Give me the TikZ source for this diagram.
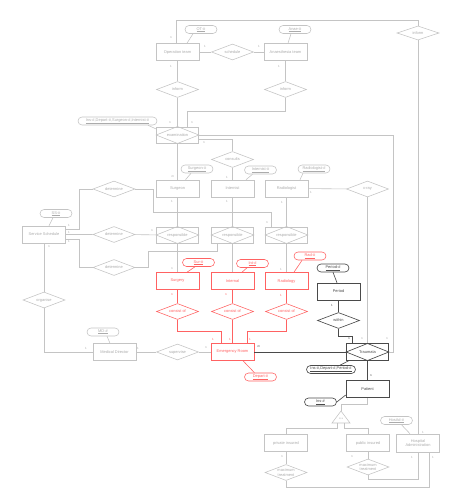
\documentclass[tikz,border=0pt]{standalone}
\usepackage{fontspec}
\usetikzlibrary{shapes.geometric,calc}
\newfontfamily\lsf{Liberation Sans}
\newcommand\erfont{\lsf\fontsize{5.6}{6.4}\selectfont}
\newcommand\cardfont{\lsf\fontsize{4.3}{5}\selectfont}
\definecolor{cGray}{HTML}{C4C4C4}
\definecolor{cGrayT}{HTML}{ABABAB}
\definecolor{cRed}{HTML}{FF6262}
\definecolor{cDark}{HTML}{4A4A4A}
\tikzset{
  base/.style={inner sep=0pt, align=center, font=\erfont},
  ent/.style={base, draw, rectangle, minimum width=21.5mm, minimum height=8.5mm},
  rel/.style={base, draw, diamond, aspect=2.6, minimum width=21mm, minimum height=8mm},
  wrel/.style={base, draw, rectangle, minimum width=21mm, minimum height=8.2mm},
  attr/.style={base, draw, rectangle, rounded corners=2mm, minimum height=4mm, minimum width=16mm},
  gr/.style={draw=cGray, text=cGrayT, line width=0.8pt},
  rd/.style={draw=cRed, text=cRed, line width=0.8pt},
  dk/.style={draw=cDark, text=cDark, line width=0.9pt},
  gl/.style={draw=cGray, line width=0.8pt},
  rl/.style={draw=cRed, line width=0.8pt},
  dl/.style={draw=cDark, line width=0.9pt},
  card/.style={inner sep=0pt, font=\cardfont},
  cg/.style={card, text=cGrayT},
  cr/.style={card, text=cRed},
  cd/.style={card, text=cDark},
}
\begin{document}
\begin{tikzpicture}[x=0.5mm, y=-0.5mm]
\fill[white] (0,0) rectangle (454,503);
\useasboundingbox (0,0) rectangle (454,503);

% ---- top
\node[ent,gr] (ot) at (177.5,52) {Operation team};
\node[ent,gr] (at) at (285.5,52) {Anaesthesia team};
\node[rel,gr] (sched) at (232.5,52) {schedule};
\node[rel,gr] (inf1) at (177.5,89.5) {inform};
\node[rel,gr] (inf2) at (285.5,89.5) {inform};
\node[rel,gr,minimum height=7mm] (inf3) at (418,33) {inform};
\node[attr,gr] (otid) at (201,29.5) {\underline{OT-\#}};
\node[attr,gr] (atid) at (295,29.5) {\underline{Anae-\#}};

\node[wrel,gr] (exam) at (177.5,135) {examination};
\node[attr,gr,minimum width=39.5mm] (examid) at (117.5,121) {\underline{Ins-\#,Depart-\#,Surgeon-\#,Internist-\#}};
\node[rel,gr] (cons) at (232.5,159.5) {consults};

\node[ent,gr] (sur) at (177.5,188.5) {Surgeon};
\node[ent,gr] (int) at (232.5,188.5) {Internist};
\node[ent,gr] (rad) at (286.5,188.5) {Radiologist};
\node[attr,gr] (surid) at (197,169) {\underline{Surgeon-\#}};
\node[attr,gr] (intid) at (260.5,170) {\underline{Internist-\#}};
\node[attr,gr] (radid) at (314,169) {\underline{Radiologist-\#}};
\node[rel,gr] (xray) at (367.5,189) {x-ray};

\node[ent,gr] (ss) at (44,234.5) {Service Schedule};
\node[attr,gr] (ssid) at (56,213.5) {\underline{SS-\#}};
\node[rel,gr] (det1) at (114,189) {determine};
\node[rel,gr] (det2) at (114,234.5) {determine};
\node[rel,gr] (det3) at (114,267.5) {determine};

\node[wrel,gr] (resp1) at (177.5,235) {responsible};
\node[wrel,gr] (resp2) at (232.5,235) {responsible};
\node[wrel,gr] (resp3) at (286.5,235) {responsible};

\node[ent,rd] (surg) at (177.5,281) {Surgery};
\node[ent,rd] (inl) at (232.5,281) {Internal};
\node[ent,rd] (radl) at (286.5,281) {Radiology};
\node[attr,rd] (surgid) at (198.5,262.5) {\underline{Sur-\#}};
\node[attr,rd] (inlid) at (252.5,263.5) {\underline{Int-\#}};
\node[attr,rd] (radlid) at (310,256) {\underline{Rad-\#}};
\node[rel,rd] (co1) at (177.5,311.5) {consist of};
\node[rel,rd] (co2) at (232.5,311.5) {consist of};
\node[rel,rd] (co3) at (286.5,311.5) {consist of};

\node[rel,gr] (org) at (44,300) {organise};
\node[ent,gr] (md) at (114.5,352) {Medical Director};
\node[attr,gr] (mdid) at (103,332) {\underline{MD-\#}};
\node[rel,gr] (sup) at (177.5,352) {supervise};
\node[ent,rd] (er) at (232.5,352) {Emergency Room};
\node[attr,rd] (erid) at (260.5,377) {\underline{Depart-\#}};

\node[ent,dk] (per) at (338.5,291.5) {Period};
\node[attr,dk] (perid) at (333,268) {\underline{Period-\#}};
\node[rel,dk] (within) at (338.5,320.5) {within};
\node[wrel,dk] (tr) at (367.5,352) {Traumata};
\node[attr,dk,minimum width=24.5mm] (trid) at (331,369.5) {\underline{Ins-\#,Depart-\#,Period-\#}};
\node[ent,dk] (pat) at (367.5,389) {Patient};
\node[attr,dk] (patid) at (320.5,402) {\underline{Ins-\#}};

\coordinate (isatop) at (341,411);
\coordinate (isar) at (350,423);
\coordinate (isal) at (332,423);
\coordinate (isab1) at (337.5,423);
\coordinate (isab2) at (344.5,423);
\draw[gl] (isatop) -- (isar) -- (isal) -- cycle;
\node[card,text=cGrayT,font=\lsf\fontsize{3.6}{4}\selectfont] (isa) at (341,418.5) {is a};

\node[ent,gr] (priv) at (286,443) {private insured};
\node[ent,gr] (pub) at (368,443) {public insured};
\node[ent,gr,minimum height=9mm] (ha) at (418,443) {Hospital\\Administration};
\node[attr,gr] (haid) at (396.5,420.5) {\underline{HosAd-\#}};
\node[rel,gr] (mt1) at (286,472.5) {maximum\\treatment};
\node[rel,gr] (mt2) at (368,467) {maximum\\treatment};

% inner diamonds of weak relationships
\foreach \n/\s in {exam/gl,resp1/gl,resp2/gl,resp3/gl,tr/dl}
  \draw[\s] (\n.north) -- (\n.east) -- (\n.south) -- (\n.west) -- cycle;

% ---- attribute links
\draw[gl] ($(otid.south)+(-8,0)$) -- ($(ot.north)+(9.5,0)$);
\draw[gl] ($(atid.south)+(-4,0)$) -- ($(at.north)+(2.5,0)$);
\draw[gl] ($(examid.south)+(30.5,0)$) -- ($(exam.west)+(0,-6)$);
\draw[gl] ($(surid.south)+(-6,0)$) -- ($(sur.north)+(8,0)$);
\draw[gl] ($(intid.south)+(-8,0)$) -- ($(int.north)+(13.5,0)$);
\draw[gl] ($(radid.south)+(-11,0)$) -- ($(rad.north)+(13.5,0)$);
\draw[gl] ($(ssid.south)+(-3,0)$) -- ($(ss.north)+(5,0)$);
\draw[rl] ($(surgid.south)+(-3.5,0)$) -- ($(surg.north)+(9.5,0)$);
\draw[rl] ($(inlid.south)+(-5.5,0)$) -- ($(inl.north)+(9.5,0)$);
\draw[rl] ($(radlid.south)+(-8,0)$) -- ($(radl.north)+(7.5,0)$);
\draw[gl] ($(mdid.south)+(4,0)$) -- ($(md.north)+(-4.5,0)$);
\draw[rl] ($(erid.north)+(-6,0)$) -- ($(er.south)+(10.5,0)$);
\draw[dl] (perid.south) -- ($(per.north)+(-1.5,0)$);
\draw[dl] ($(trid.north)+(9,0)$) -- ($(tr.south west)+(3,0)$);
\draw[dl] (patid.east) -- ($(pat.west)+(0,6)$);
\draw[gl] ($(haid.south)+(5,0)$) -- ($(ha.north)+(-8,0)$);

% ---- gray connectors
\draw[gl] ($(ot.north)+(-1.5,0)$) |- ($(inf3.north)+(0,-5)$) -- (inf3.north);
\draw[gl] (inf3.south) -- (ha.north);
\draw[gl] (ot) -- (sched) -- (at);
\draw[gl] (ot) -- (inf1) -- (exam);
\draw[gl] (at) -- (inf2);
\draw[gl] (inf2.south) |- ($(exam.north)+(9.5,-15)$) -- ($(exam.north)+(9.5,0)$);
\draw[gl] (exam.east) -| ($(tr.east)+(4,0)$) -- (tr.east);
\draw[gl] ($(exam.east)+(0,4)$) -| (cons.north);
\draw[gl] (cons) -- (int);
\draw[gl] (exam) -- (sur);
\draw[gl] (rad) -- (xray);
\draw[gl] (xray.south) -- (tr.north);
\draw[gl] (sur) -- (resp1);
\draw[gl] (int) -- (resp2);
\draw[gl] (rad) -- (resp3);
\draw[gl] (resp1) -- (surg);
\draw[gl] (resp2) -- (inl);
\draw[gl] (resp3) -- (radl);
\draw[gl] ($(ss.east)+(0,-5.5)$) -| ($(det1.west)+(-13,0)$) -- (det1.west);
\draw[gl] (det1.east) -| ($(resp1.north)+(-24.5,-14)$) -| ($(resp3.north)+(-15.5,0)$);
\draw[gl] (ss.east) -- (det2) -- (resp1);
\draw[gl] ($(ss.east)+(0,4.5)$) -| ($(det3.west)+(-13,0)$) -- (det3.west);
\draw[gl] (det3.east) -| ($(resp2.south)+(-84.5,8)$) -| ($(resp2.south)+(-15.5,0)$);
\draw[gl] (ss) -- (org);
\draw[gl] (org.south) |- (md.west);
\draw[gl] (md) -- (sup) -- (er);
\draw[gl] (pat.south) -- ++(0,6) -| (isatop);
\draw[gl] (isab1) -- ++(0,5) -| (priv.north);
\draw[gl] (isab2) -- ++(0,5) -| (pub.north);
\draw[gl] (priv) -- (mt1);
\draw[gl] (pub) -- (mt2);
\draw[gl] (mt1.south) -- ++(0,6) -| ($(ha.south)+(11,0)$);
\draw[gl] (mt2.south) -- ++(0,4) -| (ha.south);

% ---- red connectors
\draw[rl] (surg) -- (co1);
\draw[rl] (inl) -- (co2);
\draw[rl] (radl) -- (co3);
\draw[rl] (co1.south) -- ++(0,11) -| ($(er.north)+(-11.5,0)$);
\draw[rl] (co2) -- (er);
\draw[rl] (co3.south) -- ++(0,11) -| ($(er.north)+(14.5,0)$);

% ---- dark connectors
\draw[dl] (er) -- (tr);
\draw[dl] (per) -- (within);
\draw[dl] (within.south) -- ++(0,7) -| ($(tr.north)+(-15,0)$);
\draw[dl] (tr) -- (pat);

% ---- cardinalities
\node[cg] at (171,38) {n};
\node[cg] at (205,46) {1};
\node[cg] at (259,46) {1};
\node[cg] at (171,66) {1};
\node[cg] at (279,66) {1};
\node[cg] at (170,123) {n};
\node[cg] at (192,123) {n};
\node[cg] at (204,143) {n};
\node[cg] at (173,177) {m};
\node[cg] at (227,177) {1};
\node[cg] at (311,192) {1};
\node[cg] at (172,201) {1};
\node[cg] at (227,201) {1};
\node[cg] at (282,202) {1};
\node[cg] at (267,223) {n};
\node[cg] at (152,231) {n};
\node[cg] at (69,225) {1};
\node[cg] at (69,232) {1};
\node[cg] at (69,241) {1};
\node[cg] at (49,247) {n};
\node[cg] at (172,269) {n};
\node[cg] at (281,269) {1};
\node[cg] at (86,348) {1};
\node[cg] at (138,348) {1};
\node[cg] at (206,348) {n};
\node[cg] at (362,339) {n};
\node[cg] at (387,339) {n};
\node[cg] at (423,432) {1};
\node[cg] at (282,457) {n};
\node[cg] at (352,457) {n};
\node[cg] at (412,457) {1};
\node[cg] at (433,457) {1};
\node[cr] at (172,295) {n};
\node[cr] at (226,295) {n};
\node[cr] at (281,295) {1};
\node[cr] at (213,339) {1};
\node[cr] at (230,339) {1};
\node[cr] at (250,339) {1};
\node[cd] at (259,347) {m};
\node[cd] at (332,305) {1};
\node[cd] at (349,339) {n};
\node[cd] at (371,376) {n};
\end{tikzpicture}
\end{document}
